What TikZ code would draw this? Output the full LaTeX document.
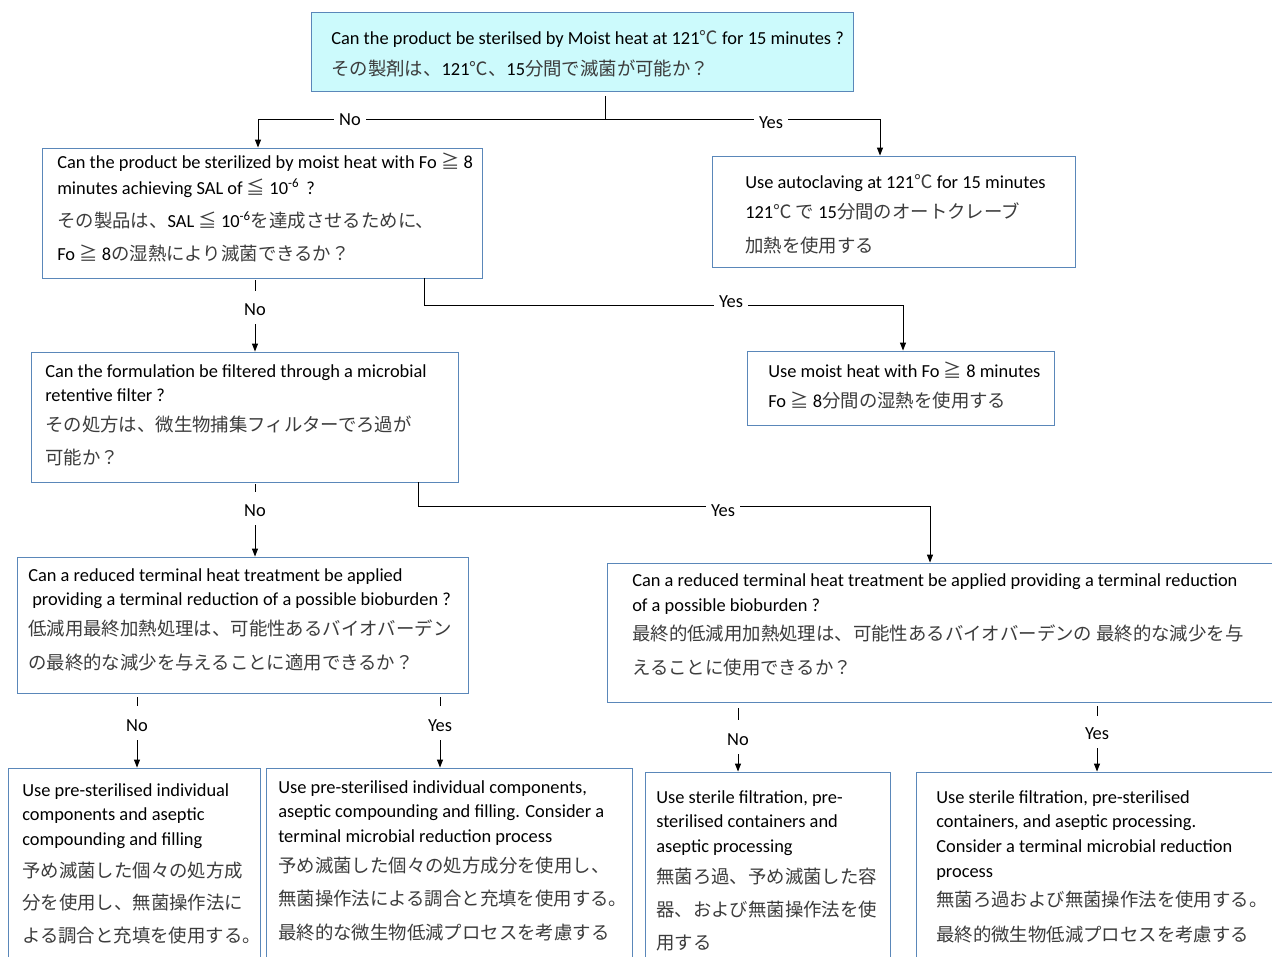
\documentclass[tikz,border=0pt]{standalone}
\usepackage{fontspec}
\setmainfont{Carlito}
\newfontfamily\jpf{Noto Sans CJK JP}
\usetikzlibrary{arrows.meta,fit}
\definecolor{boxblue}{RGB}{90,135,185}
\definecolor{topfill}{RGB}{204,250,252}
\definecolor{jpgray}{RGB}{60,60,60}
\newcommand\jt[1]{{\jpf\color{jpgray}#1}}
\newcommand\tsz{\fontsize{13.8}{16}\selectfont}
\begin{document}
\begin{tikzpicture}[x=0.75pt,y=-0.75pt,
  box/.style={draw=boxblue, line width=0.65pt, inner sep=0pt},
  tx/.style={anchor=base west, inner sep=0pt, font=\tsz},
  lab/.style={inner sep=0pt, font=\tsz},
  labw/.style={lab, fill=white, inner xsep=4pt, inner ysep=2pt},
  conn/.style={draw=black, line width=0.75pt},
  arr/.style={conn, -{Triangle[length=6pt,width=4.5pt]}}]
\useasboundingbox (0,0) rectangle (1272,957);
\clip (0,0) rectangle (1272,957);
\fill[white] (0,0) rectangle (1272,957);
% boxes
\node[box, fill=topfill, fit={(311,12) (853,91)}] (b1) {};
\node[box, fit={(42,148) (482,278)}] (b2) {};
\node[box, fit={(712,156) (1075,267)}] (b3) {};
\node[box, fit={(747,351) (1054,425)}] (b4) {};
\node[box, fit={(31,352) (458,482)}] (b5) {};
\node[box, fit={(17,557) (468,693)}] (b6) {};
\node[box, fit={(607,563) (1290,702)}] (b7) {};
\node[box, fit={(8,768) (260,970)}] (b8) {};
\node[box, fit={(266,768) (632,970)}] (b9) {};
\node[box, fit={(645,772) (890,970)}] (b10) {};
\node[box, fit={(916,772) (1290,970)}] (b11) {};
% texts
\node[tx] (t1a) at (331,44) {Can the product be sterilsed by Moist heat at 121\jt{℃} for 15 minutes ?};
\node[tx] (t1b) at (331,75) {\jt{その製剤は、}121\jt{℃、}15\jt{分間で滅菌が可能か？}};
\node[tx] (t2a) at (57,168) {Can the product be sterilized by moist heat with Fo \jt{≧} 8};
\node[tx] (t2b) at (57,194) {minutes achieving SAL of \jt{≦} 10\textsuperscript{-6}\, ?};
\node[tx] (t2c) at (57,227) {\jt{その製品は、}SAL \jt{≦} 10\textsuperscript{-6}\jt{を達成させるために、}};
\node[tx] (t2d) at (57,260) {Fo \jt{≧} 8\jt{の湿熱により滅菌できるか？}};
\node[tx] (t3a) at (745,188) {Use autoclaving at 121\jt{℃} for 15 minutes};
\node[tx] (t3b) at (745,218) {121\jt{℃} \jt{で} 15\jt{分間のオートクレーブ}};
\node[tx] (t3c) at (745,252) {\jt{加熱を使用する}};
\node[tx] (t4a) at (768,377) {Use moist heat with Fo \jt{≧} 8 minutes};
\node[tx] (t4b) at (768,407) {Fo \jt{≧} 8\jt{分間の湿熱を使用する}};
\node[tx] (t5a) at (45,377) {Can the formulation be filtered through a microbial};
\node[tx] (t5b) at (45,401) {retentive filter ?};
\node[tx] (t5c) at (45,431) {\jt{その処方は、微生物捕集フィルターでろ過が}};
\node[tx] (t5d) at (45,464) {\jt{可能か？}};
\node[tx] (t6a) at (28,581) {Can a reduced terminal heat treatment be applied};
\node[tx] (t6b) at (32,605) {providing a terminal reduction of a possible bioburden ?};
\node[tx] (t6c) at (28,635) {\jt{低減用最終加熱処理は、可能性あるバイオバーデン}};
\node[tx] (t6d) at (28,669) {\jt{の最終的な減少を与えることに適用できるか？}};
\node[tx] (t7a) at (632,586) {Can a reduced terminal heat treatment be applied providing a terminal reduction};
\node[tx] (t7b) at (632,611) {of a possible bioburden ?};
\node[tx] (t7c) at (632,640) {\jt{最終的低減用加熱処理は、可能性あるバイオバーデンの 最終的な減少を与}};
\node[tx] (t7d) at (632,674) {\jt{えることに使用できるか？}};
\node[tx] (t8a) at (22,796) {Use pre-sterilised individual};
\node[tx] (t8b) at (22,820) {components and aseptic};
\node[tx] (t8c) at (22,845) {compounding and filling};
\node[tx] (t8d) at (22,877) {\jt{予め滅菌した個々の処方成}};
\node[tx] (t8e) at (22,909) {\jt{分を使用し、無菌操作法に}};
\node[tx] (t8f) at (22,942) {\jt{よる調合と充填を使用する。}};
\node[tx] (t9a) at (278,793) {Use pre-sterilised individual components,};
\node[tx] (t9b) at (278,817) {aseptic compounding and filling. Consider a};
\node[tx] (t9c) at (278,842) {terminal microbial reduction process};
\node[tx] (t9d) at (278,872) {\jt{予め滅菌した個々の処方成分を使用し、}};
\node[tx] (t9e) at (278,905) {\jt{無菌操作法による調合と充填を使用する。}};
\node[tx] (t9f) at (278,939) {\jt{最終的な微生物低減プロセスを考慮する}};
\node[tx] (t10a) at (656,803) {Use sterile filtration, pre-};
\node[tx] (t10b) at (656,827) {sterilised containers and};
\node[tx] (t10c) at (656,852) {aseptic processing};
\node[tx] (t10d) at (656,883) {\jt{無菌ろ過、予め滅菌した容}};
\node[tx] (t10e) at (656,916) {\jt{器、および無菌操作法を使}};
\node[tx] (t10f) at (656,949) {\jt{用する}};
\node[tx] (t11a) at (936,803) {Use sterile filtration, pre-sterilised};
\node[tx] (t11b) at (936,827) {containers, and aseptic processing.};
\node[tx] (t11c) at (936,852) {Consider a terminal microbial reduction};
\node[tx] (t11d) at (936,877) {process};
\node[tx] (t11e) at (936,906) {\jt{無菌ろ過および無菌操作法を使用する。}};
\node[tx] (t11f) at (936,941) {\jt{最終的微生物低減プロセスを考慮する}};
% top connector
\coordinate (j1) at (605,119);
\coordinate (jl) at (258,119);
\coordinate (jr) at (880,119);
\draw[conn] (b1.south -| j1) ++(0,5) -- (j1);
\draw[arr] (j1) -- (jl) -- (b2.north -| jl);
\draw[arr] (j1) -- (jr) -- (b3.north -| jr);
\node[labw] (l1n) at (350,120) {No};
\node[labw] (l1y) at (771,123) {Yes};
% box2 yes
\coordinate (c2a) at (424,305);
\coordinate (c2b) at (903,305);
\draw[arr] (b2.south -| c2a) -- (c2a) -- (c2b) -- (b4.north -| c2b);
\node[labw] (l2y) at (731,302) {Yes};
% box5 yes
\coordinate (c5a) at (418,506);
\coordinate (c5b) at (930,506);
\draw[arr] (b5.south -| c5a) -- (c5a) -- (c5b) -- (b7.north -| c5b);
\node[labw] (l5y) at (723,511) {Yes};
% vertical labelled connectors
\node[lab] (l2n) at (255,310) {No};
\draw[conn] (b2.south -| l2n) ++(0,2) -- ++(0,11);
\draw[arr] ([yshift=-6pt]l2n.south) -- (b5.north -| l2n);
\node[lab] (l5n) at (255,511) {No};
\draw[conn] (b5.south -| l5n) ++(0,2) -- ++(0,8);
\draw[arr] ([yshift=-6pt]l5n.south) -- (b6.north -| l5n);
\node[lab] (l6n) at (137,726) {No};
\draw[conn] (b6.south -| l6n) ++(0,4) -- ++(0,9);
\draw[arr] ([yshift=-6pt]l6n.south) -- (b8.north -| l6n);
\node[lab] (l6y) at (440,726) {Yes};
\draw[conn] (b6.south -| l6y) ++(0,4) -- ++(0,9);
\draw[arr] ([yshift=-6pt]l6y.south) -- (b9.north -| l6y);
\node[lab] (l7n) at (738,740) {No};
\draw[conn] (b7.south -| l7n) ++(0,6) -- ++(0,12);
\draw[arr] ([yshift=-6pt]l7n.south) -- (b10.north -| l7n);
\node[lab] (l7y) at (1097,734) {Yes};
\draw[conn] (b7.south -| l7y) ++(0,4) -- ++(0,10);
\draw[arr] ([yshift=-6pt]l7y.south) -- (b11.north -| l7y);
\end{tikzpicture}
\end{document}
